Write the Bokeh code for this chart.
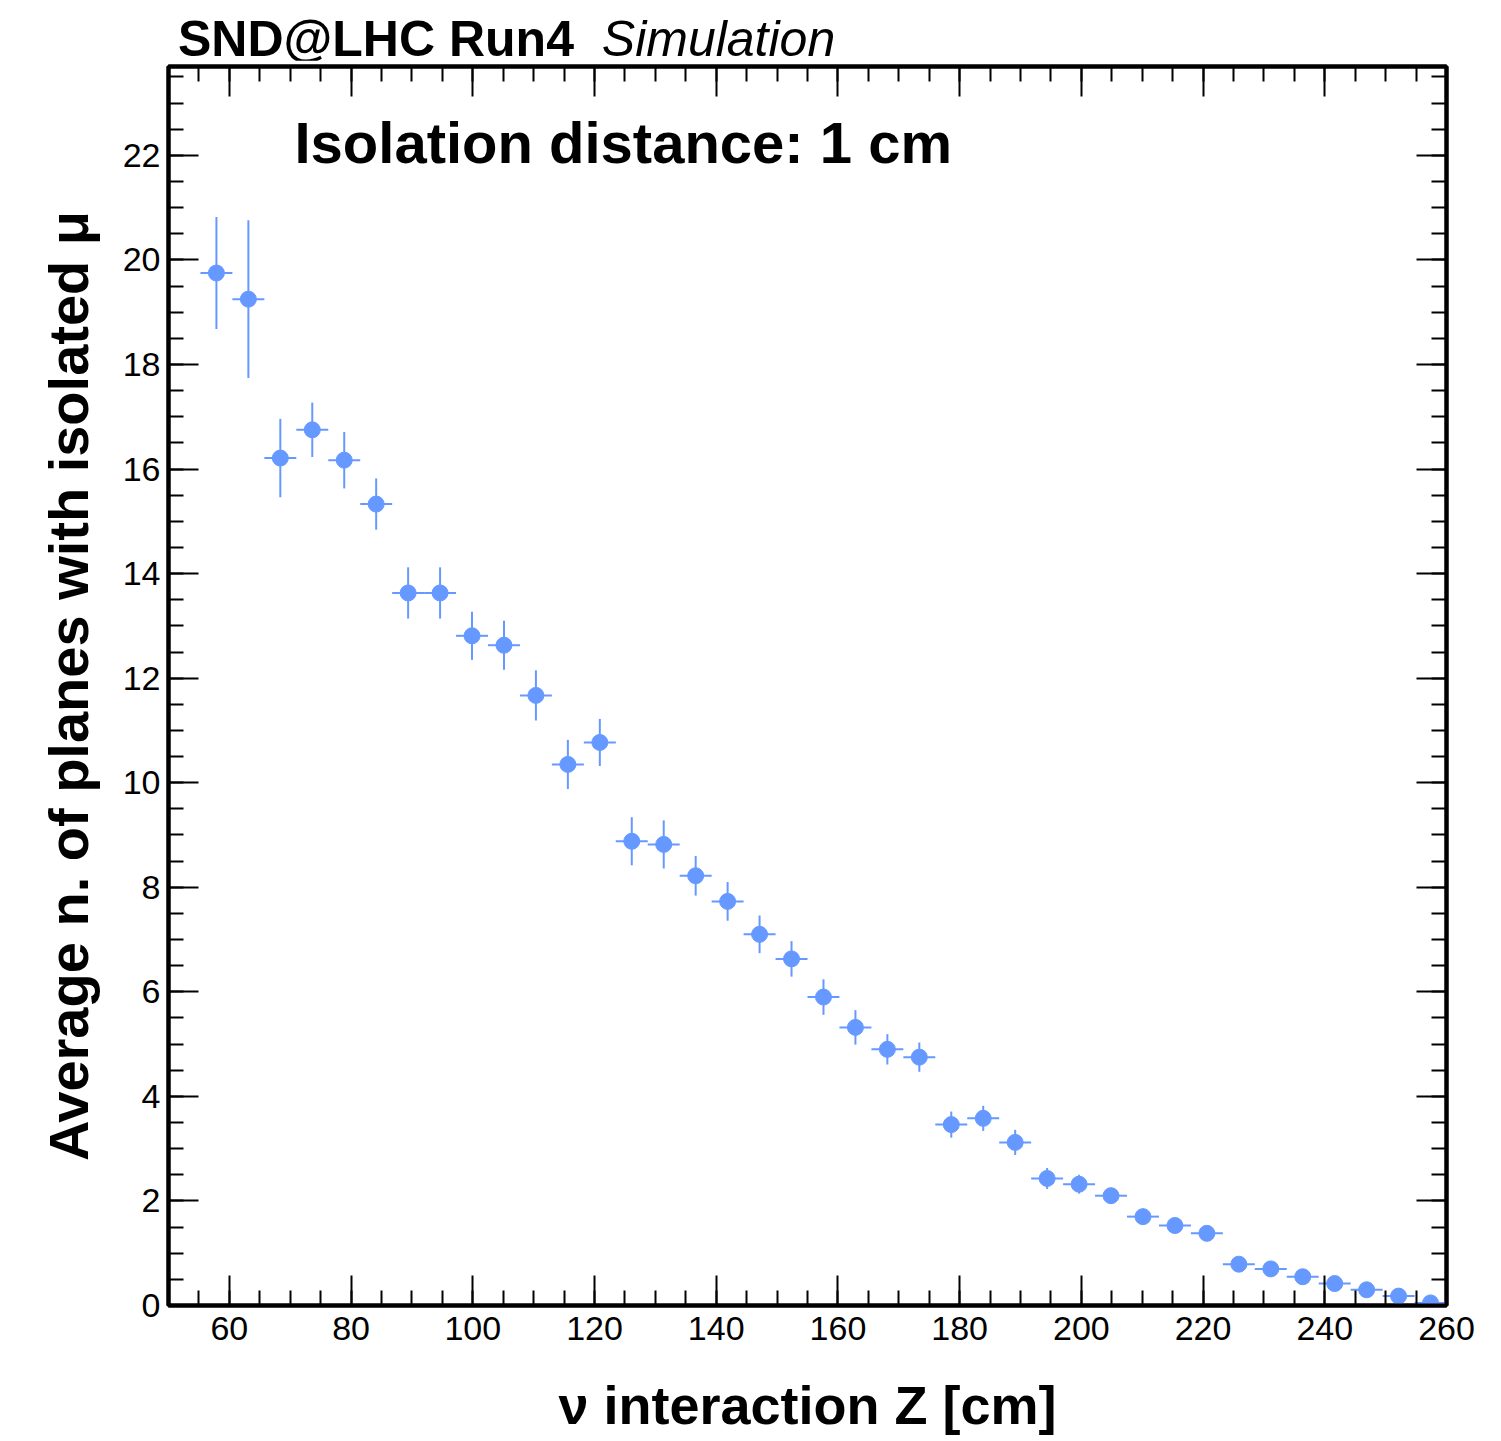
from bokeh.plotting import figure
from bokeh.models import (SingleIntervalTicker, LinearAxis, Label, ColumnDataSource,
                          CustomJSTickFormatter, Div)
from bokeh.layouts import column
from bokeh.embed import file_html
from bokeh.resources import INLINE

# ---- data ----
z_centers = [57.875, 63.125, 68.375, 73.625, 78.875, 84.125, 89.375, 94.625, 99.875,
             105.125, 110.375, 115.625, 120.875, 126.125, 131.375, 136.625, 141.875,
             147.125, 152.375, 157.625, 162.875, 168.125, 173.375, 178.625, 183.875,
             189.125, 194.375, 199.625, 204.875, 210.125, 215.375, 220.625, 225.875,
             231.125, 236.375, 241.625, 246.875, 252.125, 257.375]
bin_width = 5.25
avg_planes = [19.75, 19.25, 16.21, 16.75, 16.17, 15.33, 13.63, 13.63, 12.81, 12.63,
              11.67, 10.35, 10.77, 8.88, 8.82, 8.22, 7.73, 7.10, 6.63, 5.90,
              5.32, 4.90, 4.75, 3.46, 3.58, 3.12, 2.43, 2.32, 2.10, 1.70,
              1.53, 1.38, 0.79, 0.70, 0.55, 0.42, 0.30, 0.18, 0.05]
avg_err = [1.07, 1.51, 0.75, 0.52, 0.54, 0.49, 0.49, 0.49, 0.46, 0.47,
           0.48, 0.47, 0.45, 0.46, 0.46, 0.38, 0.37, 0.36, 0.34, 0.34,
           0.33, 0.29, 0.28, 0.25, 0.24, 0.24, 0.20, 0.18, 0.13, 0.15,
           0.12, 0.10, 0.08, 0.07, 0.06, 0.05, 0.04, 0.03, 0.02]

x_title = "ν interaction Z [cm]"
y_title = "Average n. of planes with isolated μ"
exp_label = "SND@LHC Run4"
sim_label = "Simulation"
info_label = "Isolation distance: 1 cm"

COLOR = "#6699ff"
FONT = "Liberation Sans"
HEADER_H = 60

src = ColumnDataSource(dict(
    x=z_centers, y=avg_planes,
    ylo=[v - e for v, e in zip(avg_planes, avg_err)],
    yhi=[v + e for v, e in zip(avg_planes, avg_err)],
    xlo=[c - bin_width / 2 for c in z_centers],
    xhi=[c + bin_width / 2 for c in z_centers],
))

p = figure(width=1493, height=1440 - HEADER_H, x_range=(50, 260), y_range=(0, 23.7),
           output_backend="svg", toolbar_location=None,
           min_border_left=168, min_border_right=47, min_border_top=66 - HEADER_H,
           min_border_bottom=135,
           x_axis_location=None, y_axis_location=None)
p.grid.visible = False
p.outline_line_color = "black"
p.outline_line_width = 4
p.background_fill_color = "white"
p.border_fill_color = "white"

def style_axis(ax, labels=True, interval=20):
    ax.ticker = SingleIntervalTicker(interval=interval, num_minor_ticks=4)
    ax.axis_line_width = 4
    ax.axis_line_color = "black"
    ax.major_tick_in = 30
    ax.major_tick_out = 0
    ax.minor_tick_in = 15
    ax.minor_tick_out = 0
    ax.major_tick_line_width = 2
    ax.minor_tick_line_width = 2
    ax.major_tick_line_color = "black"
    ax.minor_tick_line_color = "black"
    if labels:
        ax.major_label_text_font = FONT
        ax.major_label_text_font_size = "34px"
        ax.major_label_text_color = "black"
    else:
        ax.formatter = CustomJSTickFormatter(code="return ''")
        ax.major_label_standoff = 0

xb = LinearAxis(axis_label=x_title)
style_axis(xb, True, 20)
xb.major_label_standoff = 11
xb.axis_label_text_font = FONT
xb.axis_label_text_font_style = "bold"
xb.axis_label_text_font_size = "54px"
xb.axis_label_text_color = "black"
xb.axis_label_standoff = 32
p.add_layout(xb, "below")

yl = LinearAxis(axis_label=y_title)
style_axis(yl, True, 2)
yl.major_label_standoff = 8
yl.axis_label_text_font = FONT
yl.axis_label_text_font_style = "bold"
yl.axis_label_text_font_size = "56px"
yl.axis_label_text_color = "black"
yl.axis_label_standoff = 20
p.add_layout(yl, "left")

xt = LinearAxis()
style_axis(xt, False, 20)
p.add_layout(xt, "above")
yr = LinearAxis()
style_axis(yr, False, 2)
p.add_layout(yr, "right")

p.segment(x0="x", y0="ylo", x1="x", y1="yhi", source=src, line_color=COLOR, line_width=2)
p.segment(x0="xlo", y0="y", x1="xhi", y1="y", source=src, line_color=COLOR, line_width=2)
p.scatter(x="x", y="y", source=src, marker="circle", size=16, fill_color=COLOR, line_color=COLOR)

p.add_layout(Label(x=70.7, y=22.24, text=info_label, text_font=FONT, text_font_style="bold",
                   text_font_size="58px", text_baseline="alphabetic", text_color="black"))

header_html = (
    f'<div style="position:relative; left:178px; top:12px; font-family:\'{FONT}\'; '
    f'font-size:50px; line-height:55px; white-space:nowrap; color:black;">'
    f'<b>{exp_label}</b>&nbsp;&nbsp;<i>{sim_label}</i></div>'
)
header = Div(text=header_html, width=1493, height=HEADER_H, margin=(0, 0, 0, 0))
p.margin = (0, 0, 0, 0)

layout = column(header, p, spacing=0, margin=(0, 0, 0, 0))
open("out.html", "w").write(file_html(layout, INLINE))
